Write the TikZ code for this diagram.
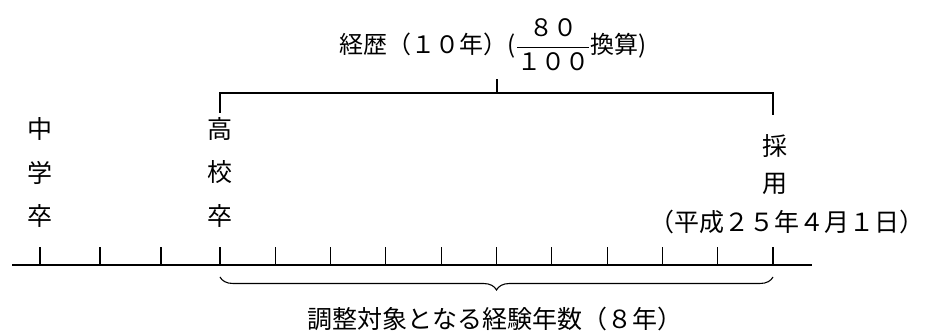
\documentclass[tikz,border=0pt]{standalone}
\usepackage{amsmath}
\usepackage{fontspec}
\setmainfont{Noto Sans CJK JP}
\usetikzlibrary{positioning, decorations.pathreplacing}

\begin{document}
\begin{tikzpicture}[
    x=1pt, y=-1pt,
    % Styles
    jlabel/.style={font=\fontsize{25}{25}\selectfont, inner sep=0pt},
    titlelabel/.style={font=\fontsize{24}{24}\selectfont, inner sep=0pt},
    axisline/.style={line width=1.2pt},
    yeartick/.style={line width=1.1pt},
    bracketline/.style={line width=1.1pt},
    yearbrace/.style={line width=1.1pt, decorate, decoration={brace, mirror, amplitude=13pt}},
    node distance=20pt
]
    \useasboundingbox (0,0) rectangle (930,336);

    % Time axis
    \coordinate (axisstart) at (12,265);
    \coordinate (axisend) at (812,265);
    \draw[axisline] (axisstart) -- (axisend);

    % Year ticks
    \coordinate (chuutick) at (40,265);
    \coordinate (koukoutick) at (220,265);
    \coordinate (saiyoutick) at (773,265);
    \draw[yeartick] (chuutick) -- ++(0,-18)
        (100,265) -- ++(0,-18) (161,265) -- ++(0,-18)
        (koukoutick) -- ++(0,-18)
        (275.3,265) -- ++(0,-18) (330.6,265) -- ++(0,-18)
        (385.9,265) -- ++(0,-18) (441.2,265) -- ++(0,-18)
        (496.5,265) -- ++(0,-18) (551.8,265) -- ++(0,-18)
        (607.1,265) -- ++(0,-18) (662.4,265) -- ++(0,-18)
        (717.7,265) -- ++(0,-18)
        (saiyoutick) -- ++(0,-18);

    % Junior high school graduation
    \node[jlabel] (chuu1) at (40,129) {中};
    \node[jlabel, below=of chuu1] (chuu2) {学};
    \node[jlabel, below=of chuu2] (chuu3) {卒};

    % High school graduation
    \node[jlabel] (koukou1) at (220,129) {高};
    \node[jlabel, below=of koukou1] (koukou2) {校};
    \node[jlabel, below=of koukou2] (koukou3) {卒};

    % Employment
    \node[jlabel] (saiyou1) at (775,146) {採};
    \node[jlabel, below=15pt of saiyou1] (saiyou2) {用};
    \node[jlabel, below=15pt of saiyou2, xshift=12pt] (saiyoudate) {（平成２５年４月１日）};

    % Career bracket
    \coordinate (bracketleft) at (220,113);
    \coordinate (bracketright) at (773,115);
    \coordinate (bracketmid) at (497,93);
    \draw[bracketline] (bracketleft) |- (bracketmid) -| (bracketright);
    \draw[bracketline] (bracketmid) -- ++(0,-14);
    \node[titlelabel] (career) at (493,45)
        {経歴（１０年）(\(\genfrac{}{}{1.1pt}{0}{\mbox{８０}}{\mbox{１００}}\)換算)};

    % Adjusted years brace
    \draw[yearbrace] (220,277) -- (773,277);
    \node[jlabel] (adjusted) at (495,319) {調整対象となる経験年数（８年）};
\end{tikzpicture}
\end{document}
